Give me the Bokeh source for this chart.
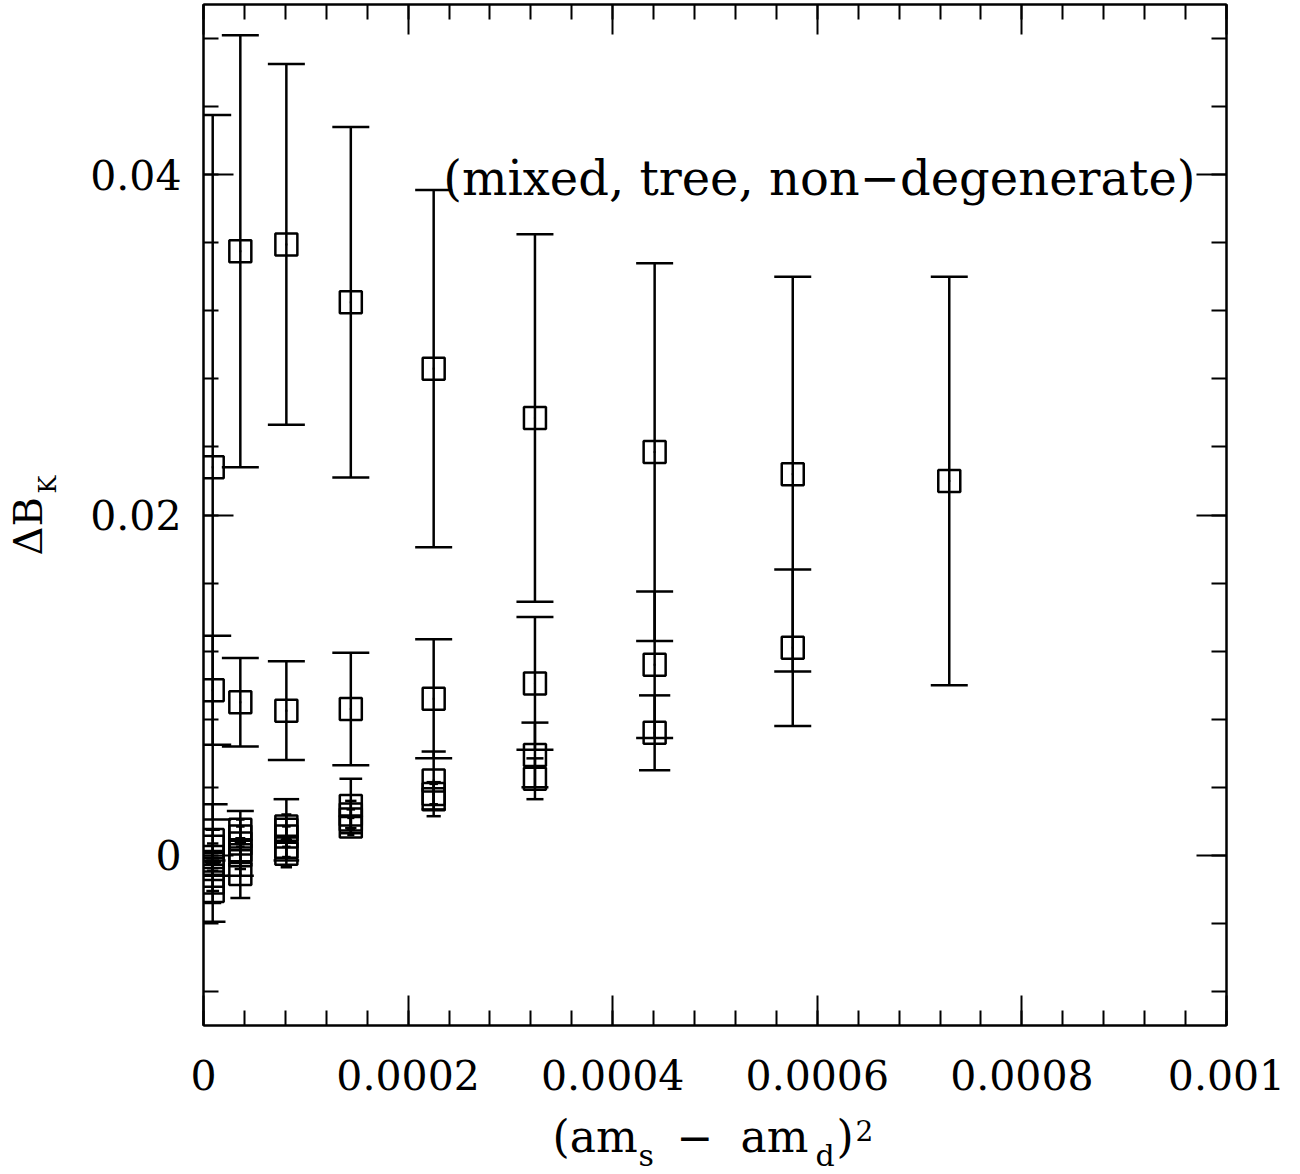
import math
from bokeh.plotting import figure
from bokeh.layouts import row, column
from bokeh.models import (ColumnDataSource, FixedTicker, LinearAxis, Label,
                          CustomJSTickFormatter, Range1d)
from bokeh.core.properties import value
from bokeh.embed import file_html
from bokeh.resources import INLINE

# ---------------- data ----------------
x_vals = [0.000009, 0.000036, 0.000081, 0.000144, 0.000225,
          0.000324, 0.000441, 0.000576, 0.000729]

s1_y = [0.0228, 0.0355, 0.0359, 0.0325, 0.0286, 0.0257, 0.0237, 0.0224, 0.0220]
s1_e = [0.0207, 0.0127, 0.0106, 0.0103, 0.0105, 0.0108, 0.0111, 0.0116, 0.0120]
s2_y = [0.0097, 0.0090, 0.0085, 0.0086, 0.0092, 0.0101, 0.0112, 0.0122]
s2_e = [0.0032, 0.0026, 0.0029, 0.0033, 0.0035, 0.0039, 0.0043, 0.0046]
s3_y = [0.0009, 0.0007, 0.0015, 0.0029, 0.0044, 0.0059, 0.0072]
s3_e = [0.0021, 0.0019, 0.0018, 0.0016, 0.0017, 0.0019, 0.0022]
s4_y = [0.0005, 0.0015, 0.0017, 0.0024, 0.0033, 0.0045]
s4_e = [0.0010, 0.0006, 0.0007, 0.0008, 0.0010, 0.0012]
s5_y = [-0.0001, 0.0011, 0.0011, 0.0021, 0.0036]
s5_e = [0.0008, 0.0006, 0.0006, 0.0006, 0.0006]
s6_y = [-0.0005, 0.0003, 0.0005, 0.0017]
s6_e = [0.0007, 0.0007, 0.0006, 0.0005]
s7_y = [-0.0012, 0.0000, 0.0001]
s7_e = [0.0009, 0.0008, 0.0008]
s8_y = [-0.0016, -0.0011]
s8_e = [0.0012, 0.0014]
s9_y = [-0.0021]
s9_e = [0.0018]

series = [(s1_y, s1_e), (s2_y, s2_e), (s3_y, s3_e), (s4_y, s4_e), (s5_y, s5_e),
          (s6_y, s6_e), (s7_y, s7_e), (s8_y, s8_e), (s9_y, s9_e)]

x_ticks = [0, 0.0002, 0.0004, 0.0006, 0.0008, 0.001]
x_tick_labels = ["0", "0.0002", "0.0004", "0.0006", "0.0008", "0.001"]
x_minor = [i * 0.00004 for i in range(0, 26)]
y_ticks = [0, 0.02, 0.04]
y_tick_labels = ["0", "0.02", "0.04"]
y_minor = [-0.008 + i * 0.004 for i in range(0, 15)]

annotation = "(mixed, tree, non\u2212degenerate)"

# axis title pieces: (text, font size)
x_title_parts = [("(am", "44px"), ("s", "30px"), ("\u2212", "44px"), ("am", "44px"),
                 ("d", "30px"), (")", "44px"), ("2", "28px")]
y_title_parts = [("\u0394B", "40px"), ("K", "24px")]

FONT = "DejaVu Serif"

# ---------------- main figure ----------------
p = figure(width=1220, height=1112, x_range=Range1d(0, 0.001), y_range=Range1d(-0.01, 0.05),
           output_backend="svg", toolbar_location=None,
           min_border_left=123, min_border_right=74, min_border_top=4, min_border_bottom=87)
p.xgrid.visible = False
p.ygrid.visible = False
p.outline_line_color = "black"
p.outline_line_width = 2
p.background_fill_color = "white"
p.border_fill_color = "white"

fmt_js = """
for (let i = 0; i < tv.length; i++) {
  if (Math.abs(tv[i] - tick) < 1e-12) { return tl[i]; }
}
return "";
"""


def style_axis(ax, ticks, minor, labels):
    ax.ticker = FixedTicker(ticks=ticks, minor_ticks=minor)
    ax.major_tick_in = 30
    ax.major_tick_out = 0
    ax.minor_tick_in = 15
    ax.minor_tick_out = 0
    ax.major_tick_line_width = 2
    ax.minor_tick_line_width = 2
    ax.axis_line_width = 2
    ax.axis_line_color = "black"
    ax.major_tick_line_color = "black"
    ax.minor_tick_line_color = "black"
    if labels is None:
        ax.major_label_text_font_size = "0px"
        ax.major_label_standoff = 0
        ax.formatter = CustomJSTickFormatter(code="return '';")
    else:
        ax.formatter = CustomJSTickFormatter(args=dict(tv=ticks, tl=labels), code=fmt_js)
        ax.major_label_text_font = FONT
        ax.major_label_text_font_size = "41px"
        ax.major_label_text_color = "black"


style_axis(p.xaxis[0], x_ticks, x_minor, x_tick_labels)
p.xaxis[0].major_label_standoff = 34
style_axis(p.yaxis[0], y_ticks, y_minor, y_tick_labels)
p.yaxis[0].major_label_standoff = 22

top_ax = LinearAxis()
style_axis(top_ax, x_ticks, x_minor, None)
p.add_layout(top_ax, "above")
right_ax = LinearAxis()
style_axis(right_ax, y_ticks, y_minor, None)
p.add_layout(right_ax, "right")

for ys, es in series:
    xs = x_vals[:len(ys)]
    src = ColumnDataSource(dict(
        x=xs, y=ys,
        lo=[y - e for y, e in zip(ys, es)],
        hi=[y + e for y, e in zip(ys, es)],
        cap=[min(37.0, 14200.0 * e) for e in es],
    ))
    p.segment(x0="x", y0="lo", x1="x", y1="hi", source=src, line_color="black", line_width=2.5)
    p.scatter(x="x", y="lo", marker="dash", size="cap", source=src, line_color="black", line_width=2.5)
    p.scatter(x="x", y="hi", marker="dash", size="cap", source=src, line_color="black", line_width=2.5)
    p.scatter(x="x", y="y", marker="square", size=22, source=src, fill_color=None,
              line_color="black", line_width=2.5)
    p.scatter(x="x", y="y", marker="square", size=2, source=src, fill_color="black",
              line_color=None)

p.add_layout(Label(x=0.000602, y=0.0398, text=annotation, text_align="center",
                   text_baseline="middle", text_font=FONT, text_font_size="48px",
                   text_color="black"))


# ---------------- title strips (pixel-like coordinates) ----------------
def strip(w, h, left=0, right=0):
    f = figure(width=w, height=h, x_range=Range1d(0, w - left - right), y_range=Range1d(0, h),
               output_backend="svg", toolbar_location=None, x_axis_type=None, y_axis_type=None,
               min_border_left=left, min_border_right=right, min_border_top=0, min_border_bottom=0)
    f.xgrid.visible = False
    f.ygrid.visible = False
    f.outline_line_color = None
    f.background_fill_color = "white"
    f.border_fill_color = "white"
    return f


# x title strip: frame aligned with the main frame (page x 203..1226, y 1112..1174)
xt = strip(1220, 62, left=123, right=74)
x_pos = [(349, 38), (435, 19), (473, 38), (537, 38), (612, 19), (633, 38), (652, 44)]
for (txt, sz), (tx, ty) in zip(x_title_parts, x_pos):
    xt.text(x=[tx], y=[ty], text=[txt], text_font=value(FONT), text_font_size=sz,
            text_color="black", text_align="left", text_baseline="alphabetic")

# y title strip: 80 x 1174, origin at page (0, 1174)
yt = strip(80, 1174)
y_pos = [(27, 619), (47, 681)]
for (txt, sz), (tx, ty) in zip(y_title_parts, y_pos):
    yt.text(x=[tx], y=[ty], text=[txt], text_font=value(FONT), text_font_size=sz,
            text_color="black", text_align="left", text_baseline="alphabetic",
            angle=math.pi / 2)

layout = row(yt, column(p, xt, spacing=0), spacing=0)
open("out.html", "w").write(file_html(layout, INLINE))
